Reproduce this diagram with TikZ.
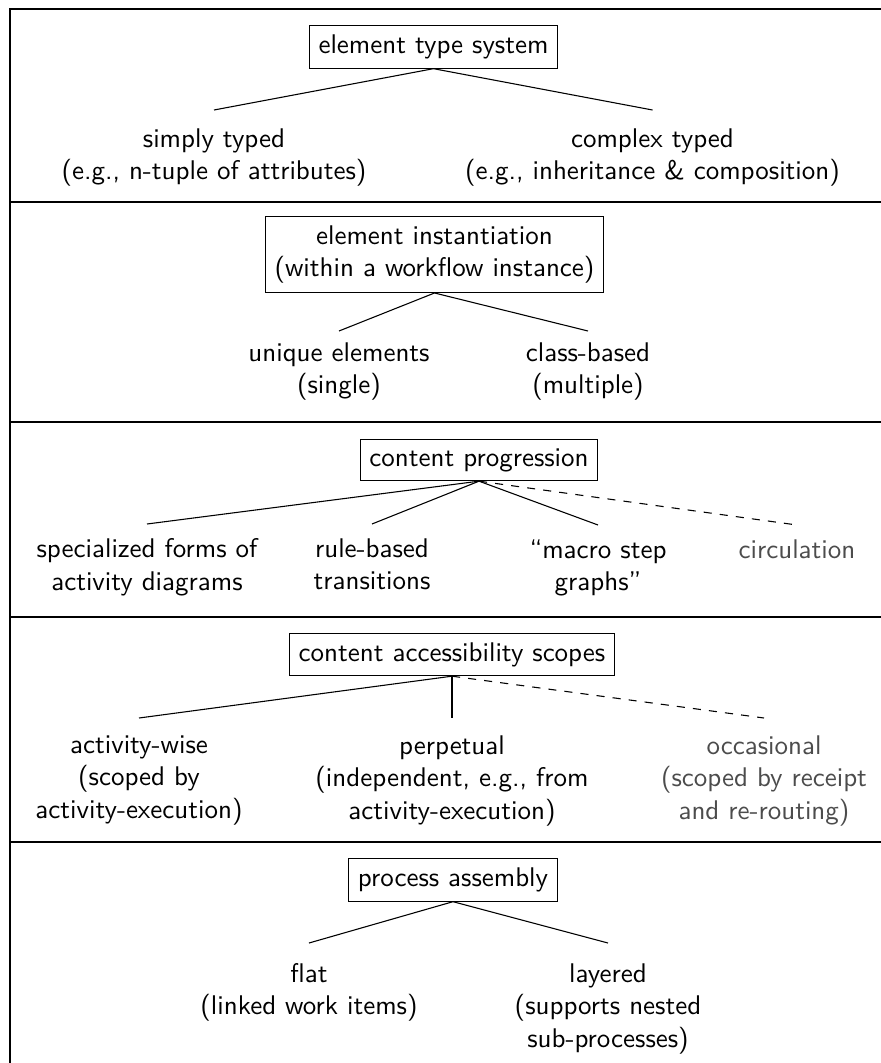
\documentclass[tikz,border=0pt]{standalone}
\begin{document}
\begin{tikzpicture}[x=0.37037pt, y=-0.37037pt, font=\sffamily,
  rootbox/.style={draw, align=center},
  leaf/.style={align=center, anchor=north, inner xsep=0pt, inner ysep=#1},
  faint/.style={text=black!70},
  optbranch/.style={dashed}]
\useasboundingbox (0,0) rectangle (881,1063);
\clip (0,0) rectangle (881,1063);

% frame and panel separators
\draw (881,9) -- (10,9) -- (10,1063);
\foreach \y in {202,422,617,842} \draw (10,\y) -- (881,\y);
\foreach \y in {9,202,422,617,842} \draw[line width=0.8pt] (10,\y+17) -- (10,\y+32);

% element type system
\node[rootbox] (ets) at (433.5,47) {element type system};
\node[leaf=6.6pt] (st) at (214,110) {simply typed\\(e.g., n-tuple of attributes)};
\node[leaf=6.6pt] (ct) at (652.5,110) {complex typed\\(e.g., inheritance \& composition)};
\draw (ets.south) -- (st.north);
\draw (ets.south) -- (ct.north);

% element instantiation
\node[rootbox] (ein) at (434.5,254.5) {element instantiation\\(within a workflow instance)};
\node[leaf=4.1pt] (uni) at (339,331) {unique elements\\(single)};
\node[leaf=4.1pt] (cls) at (588,331) {class-based\\(multiple)};
\draw (ein.south) -- (uni.north);
\draw (ein.south) -- (cls.north);

% content progression
\node[rootbox] (cpr) at (479,460) {content progression};
\node[leaf=5.2pt] (sfa) at (147,524) {specialized forms of\\activity diagrams};
\node[leaf=5.2pt] (rbt) at (372,524) {rule-based\\transitions};
\node[leaf=5.2pt] (msg) at (598,525) {“macro step\\graphs”};
\node[leaf=5.2pt, faint] (cir) at (797,525) {circulation};
\draw (cpr.south) -- (sfa.north);
\draw (cpr.south) -- (rbt.north);
\draw (cpr.south) -- (msg.north);
\draw[optbranch] (cpr.south) -- (cir.north);

% content accessibility scopes
\node[rootbox] (cas) at (452,654.5) {content accessibility scopes};
\node[leaf=6.3pt] (acw) at (139,718) {activity-wise\\(scoped by\\activity-execution)};
\node[leaf=6.3pt] (per) at (452,718) {perpetual\\(independent, e.g., from\\activity-execution)};
\node[leaf=6.3pt, faint] (occ) at (764,718) {occasional\\(scoped by receipt\\and re-routing)};
\draw (cas.south) -- (acw.north);
\draw (cas.south) -- (per.north);
\draw[optbranch] (cas.south) -- (occ.north);

% process assembly
\node[rootbox] (pas) at (453,880) {process assembly};
\node[leaf=7.4pt] (flt) at (309,943) {flat\\(linked work items)};
\node[leaf=7.4pt] (lay) at (608,943) {layered\\(supports nested\\sub-processes)};
\draw (pas.south) -- (flt.north);
\draw (pas.south) -- (lay.north);
\end{tikzpicture}
\end{document}
